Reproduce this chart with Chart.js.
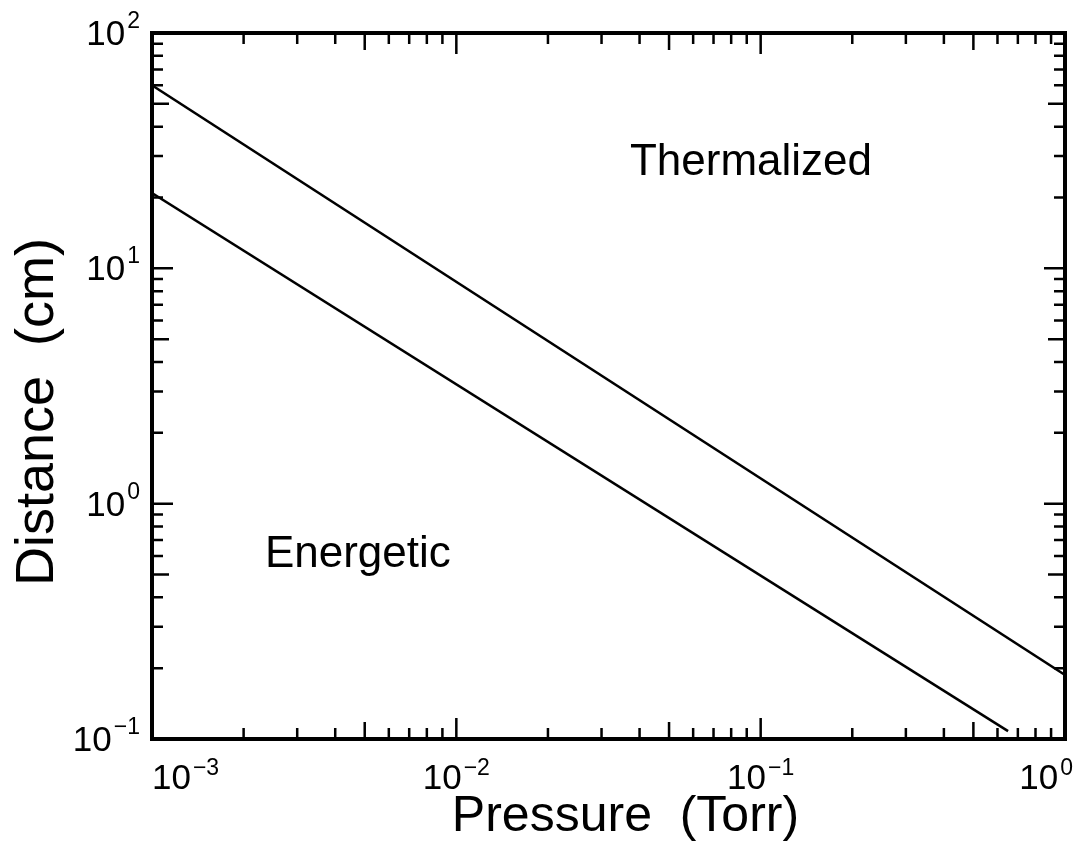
<!DOCTYPE html>
<html>
<head>
<meta charset="utf-8">
<script src="https://cdn.jsdelivr.net/npm/chart.js@4"></script>
<style>
html,body{margin:0;padding:0;background:#fff;}
#wrap{width:1079px;height:848px;}
</style>
</head>
<body>
<div id="wrap"><canvas id="c" width="1079" height="848"></canvas></div>
<script>
// ---- data ----
const pressureUpper = [0.001, 1.0];
const distanceUpper = [60, 0.187];
const pressureLower = [0.001, 0.65];
const distanceLower = [20.9, 0.108];

const xTickValues = [0.001, 0.01, 0.1, 1];
const xTickExponents = ['\u22123', '\u22122', '\u22121', '0'];
const yTickValues = [0.1, 1, 10, 100];
const yTickExponents = ['\u22121', '0', '1', '2'];

const regionLabels = ['Thermalized', 'Energetic'];
const regionLabelPressure = [0.0372, 0.00235];
const regionLabelDistance = [24.9, 0.538];

const xTitle = 'Pressure  (Torr)';
const yTitle = 'Distance  (cm)';

const FONT = '"Liberation Sans", Arial, Helvetica, sans-serif';

function toPoints(xs, ys) { return xs.map((v, i) => ({ x: v, y: ys[i] })); }

function drawPow(ctx, exp, anchorX, baseline, align, raise) {
  ctx.font = '35px ' + FONT;
  const wb = ctx.measureText('10').width;
  ctx.font = '23px ' + FONT;
  const we = ctx.measureText(exp).width;
  const gap = 2;
  const total = wb + gap + we;
  const left = align === 'right' ? anchorX - total : anchorX - total / 2;
  return { total, left, draw(l) {
    ctx.textAlign = 'left';
    ctx.textBaseline = 'alphabetic';
    ctx.font = '35px ' + FONT;
    ctx.fillText('10', l, baseline);
    ctx.font = '23px ' + FONT;
    ctx.fillText(exp, l + wb + gap, baseline - raise);
  } };
}

const framePlugin = {
  id: 'framePlugin',
  beforeDraw(chart) {
    const c = chart.ctx;
    c.save();
    c.fillStyle = '#fff';
    c.fillRect(0, 0, chart.width, chart.height);
    c.restore();
  },
  afterDraw(chart) {
    const ctx = chart.ctx, a = chart.chartArea;
    const xs = chart.scales.x, ys = chart.scales.y;
    ctx.save();
    ctx.strokeStyle = '#000';
    ctx.fillStyle = '#000';

    const lenFor = m => (m === 1 ? 21 : (m === 5 ? 17 : 11));
    const logTicks = (min, max) => {
      const out = [];
      for (let k = Math.floor(Math.log10(min)); k <= Math.ceil(Math.log10(max)); k++) {
        for (let m = 1; m < 10; m++) {
          const v = m * Math.pow(10, k);
          if (v >= min * 0.999 && v <= max * 1.001) out.push([v, m]);
        }
      }
      return out;
    };

    ctx.lineWidth = 2.5;
    ctx.beginPath();
    for (const [v, m] of logTicks(xs.min, xs.max)) {
      const px = xs.getPixelForValue(v), L = lenFor(m);
      ctx.moveTo(px, a.bottom); ctx.lineTo(px, a.bottom - L);
      ctx.moveTo(px, a.top); ctx.lineTo(px, a.top + L);
    }
    for (const [v, m] of logTicks(ys.min, ys.max)) {
      const py = ys.getPixelForValue(v), L = lenFor(m);
      ctx.moveTo(a.left, py); ctx.lineTo(a.left + L, py);
      ctx.moveTo(a.right, py); ctx.lineTo(a.right - L, py);
    }
    ctx.stroke();

    ctx.lineWidth = 4;
    ctx.strokeRect(a.left, a.top, a.right - a.left, a.bottom - a.top);

    // x tick labels
    xTickValues.forEach((v, i) => {
      const px = xs.getPixelForValue(v);
      const p = drawPow(ctx, xTickExponents[i], px, a.bottom + 50, 'center', 14);
      let l = p.left;
      if (l < a.left) l = a.left;
      if (l + p.total > a.right + 8) l = a.right + 8 - p.total;
      p.draw(l);
    });
    // y tick labels
    yTickValues.forEach((v, i) => {
      const py = ys.getPixelForValue(v);
      const p = drawPow(ctx, yTickExponents[i], a.left - 12, py + 12, 'right', 17);
      p.draw(p.left);
    });

    // region labels
    ctx.font = '44px ' + FONT;
    ctx.textAlign = 'left';
    ctx.textBaseline = 'alphabetic';
    regionLabels.forEach((t, i) => {
      ctx.fillText(t, xs.getPixelForValue(regionLabelPressure[i]), ys.getPixelForValue(regionLabelDistance[i]));
    });

    // axis titles
    ctx.font = '50px ' + FONT;
    ctx.textAlign = 'center';
    ctx.fillText(xTitle, (a.left + a.right) / 2 + 17, a.bottom + 92);
    ctx.save();
    ctx.translate(53, (a.top + a.bottom) / 2 + 26);
    ctx.rotate(-Math.PI / 2);
    ctx.font = '54px ' + FONT;
    ctx.fillText(yTitle, 0, 0);
    ctx.restore();

    ctx.restore();
  }
};

new Chart(document.getElementById('c'), {
  type: 'scatter',
  data: {
    datasets: [
      { label: 'Thermalization distance', data: toPoints(pressureUpper, distanceUpper),
        showLine: true, borderColor: '#000', borderWidth: 2.5, pointRadius: 0, fill: false },
      { label: 'Energetic limit', data: toPoints(pressureLower, distanceLower),
        showLine: true, borderColor: '#000', borderWidth: 2.5, pointRadius: 0, fill: false }
    ]
  },
  options: {
    responsive: false,
    devicePixelRatio: 1,
    animation: false,
    layout: { padding: { top: 33, right: 14, left: 0, bottom: 0 } },
    plugins: { legend: { display: false }, tooltip: { enabled: false } },
    scales: {
      x: {
        type: 'logarithmic', min: 0.001, max: 1, position: 'bottom',
        grid: { display: false }, border: { display: false },
        ticks: { display: false },
        afterFit(s) { s.height = 109; }
      },
      y: {
        type: 'logarithmic', min: 0.1, max: 100, position: 'left',
        grid: { display: false }, border: { display: false },
        ticks: { display: false },
        afterFit(s) { s.width = 152; }
      }
    }
  },
  plugins: [framePlugin]
});
</script>
</body>
</html>
